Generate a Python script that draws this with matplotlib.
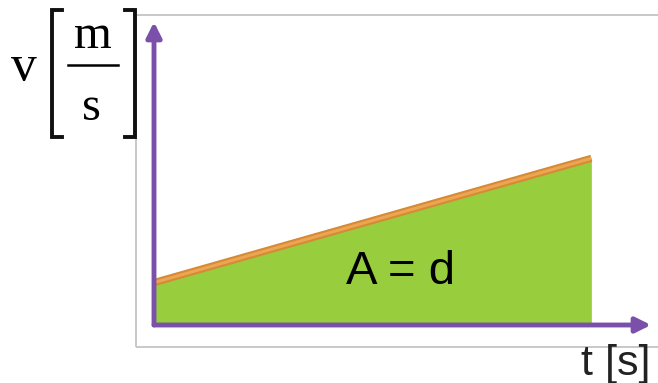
import matplotlib
matplotlib.use("Agg")
import matplotlib.pyplot as plt
from matplotlib.lines import Line2D
from matplotlib.patches import Rectangle

# velocity grows linearly with time; the shaded area is the distance
t = [0.0, 8.8]
v = [1.4, 5.5]
t_max = 10.0
v_max = 10.0

W, H = 658, 383
fig = plt.figure(figsize=(W / 100, H / 100), dpi=100)


def fx(px):
    return px / W


def fy(py):
    return 1 - py / H


# light grey frame behind everything
fig.patches.append(Rectangle((fx(136), fy(347)), fx(530), (347 - 15) / H,
                             transform=fig.transFigure, fill=False,
                             edgecolor="#c4c4c4", lw=1.3, zorder=0))

ax = fig.add_axes([fx(154), fy(325), fx(651 - 154), (325 - 22) / H])
ax.set_xlim(0, t_max)
ax.set_ylim(0, v_max)
ax.axis("off")

ax.fill_between(t, 0, v, color="#98cd3e", lw=0, zorder=1)
ax.plot(t, v, color="#d58a35", lw=5.2, solid_capstyle="butt", zorder=2)
ax.plot(t, v, color="#eda551", lw=2.2, solid_capstyle="butt", zorder=2)

arrow = dict(arrowstyle="-|>,head_length=0.9,head_width=0.45", color="#7a50aa",
             lw=3.5, shrinkA=0, shrinkB=0)
ax.annotate("", xy=(1.0, 0), xytext=(0, 0), xycoords="axes fraction",
            arrowprops=arrow, zorder=3)
ax.annotate("", xy=(0, 1.0), xytext=(0, 0), xycoords="axes fraction",
            arrowprops=arrow, zorder=3)

ax.text(4.95, 1.35, "A = d", fontsize=34, family="Liberation Sans",
        ha="center", va="baseline", zorder=4)

fig.text(fx(616), fy(375), "t [s]", fontsize=31, family="Liberation Sans",
         ha="center", va="baseline", color="#222222")

# v [m/s] label with a stacked fraction and drawn brackets
serif = "Liberation Serif"
fig.text(fx(24), fy(80), "v", fontsize=37, family=serif, ha="center", va="baseline")
fig.text(fx(93), fy(48), "m", fontsize=35, family=serif, ha="center", va="baseline")
fig.text(fx(91), fy(120), "s", fontsize=35, family=serif, ha="center", va="baseline")
fig.lines.append(Line2D([fx(68), fx(118)], [fy(65), fy(65)],
                        transform=fig.transFigure, color="black", lw=1.8))
fig.lines.append(Line2D([fx(62), fx(52), fx(52), fx(62)],
                        [fy(10), fy(10), fy(137), fy(137)],
                        transform=fig.transFigure, color="#111111", lw=2.8,
                        solid_joinstyle="miter"))
fig.lines.append(Line2D([fx(125), fx(135), fx(135), fx(125)],
                        [fy(10), fy(10), fy(137), fy(137)],
                        transform=fig.transFigure, color="#111111", lw=2.8,
                        solid_joinstyle="miter"))

fig.savefig("out.png", dpi=100)
